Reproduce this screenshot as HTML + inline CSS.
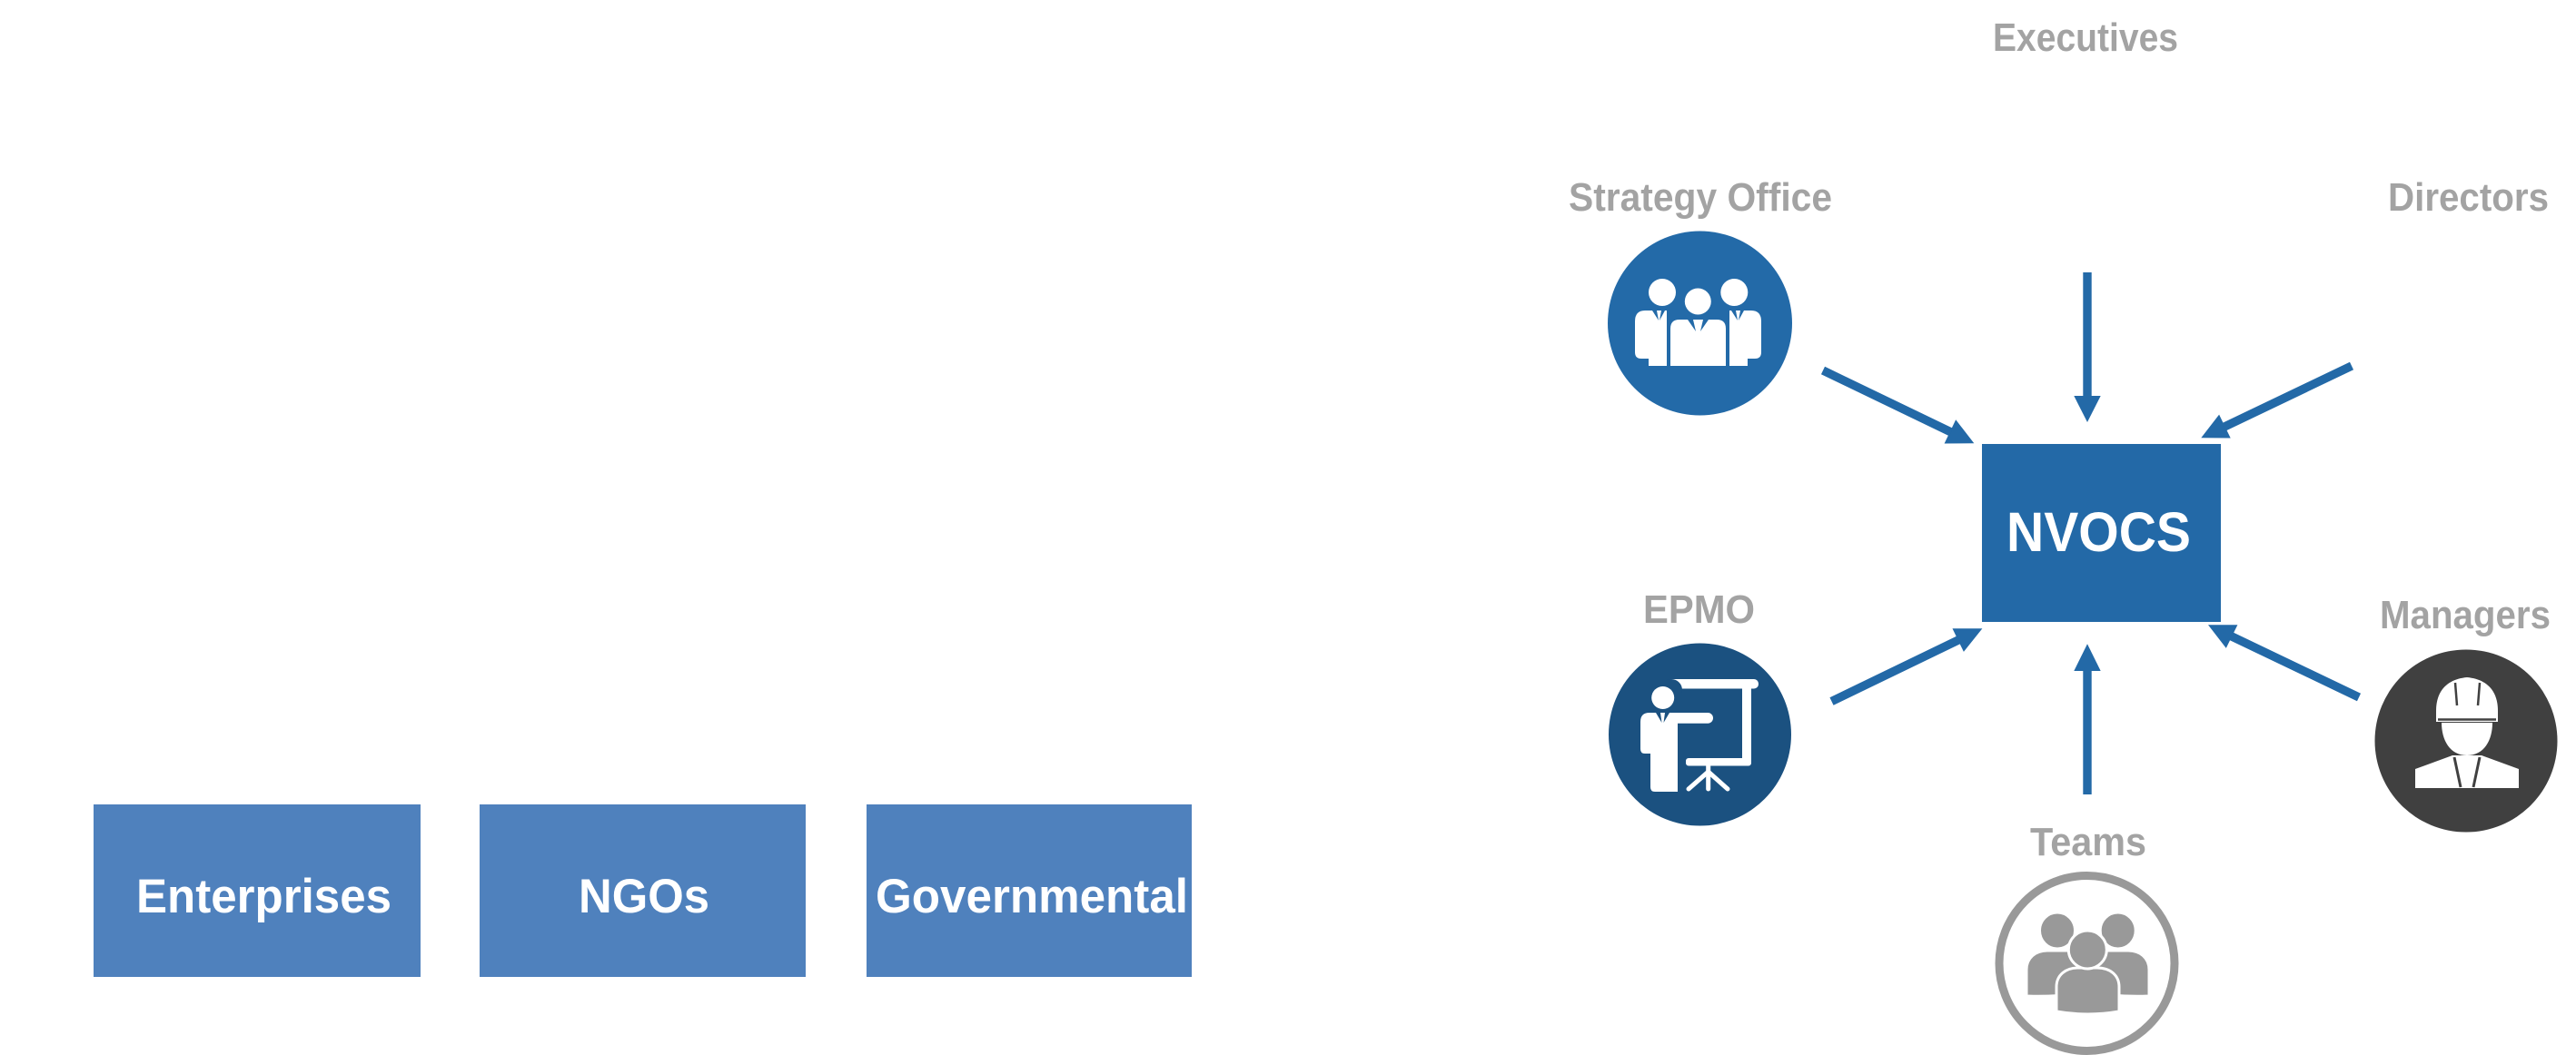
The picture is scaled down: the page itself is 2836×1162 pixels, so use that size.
<!DOCTYPE html>
<html>
<head>
<meta charset="utf-8">
<style>
  html, body { margin:0; padding:0; background:#ffffff; }
  body { width:2836px; height:1162px; overflow:hidden; }
  svg { display:block; }
  .lbl { font-family:"Liberation Sans", Arial, sans-serif; font-weight:bold; fill:#a3a3a3; font-size:44px; }
  .wt { font-family:"Liberation Sans", Arial, sans-serif; font-weight:bold; fill:#ffffff; }
</style>
</head>
<body>
<svg width="2836" height="1162" viewBox="0 0 2836 1162" xmlns="http://www.w3.org/2000/svg">
  <rect x="0" y="0" width="2836" height="1162" fill="#ffffff"/>

  <!-- Bottom-left boxes -->
  <rect x="103" y="886" width="360" height="190" fill="#4f81bd"/>
  <rect x="528" y="886" width="359" height="190" fill="#4f81bd"/>
  <rect x="954" y="886" width="358" height="190" fill="#4f81bd"/>
  <text class="wt" x="150" y="1005" font-size="53" textLength="281" lengthAdjust="spacingAndGlyphs">Enterprises</text>
  <text class="wt" x="637" y="1005" font-size="53" textLength="144" lengthAdjust="spacingAndGlyphs">NGOs</text>
  <text class="wt" x="964" y="1005" font-size="53" textLength="344" lengthAdjust="spacingAndGlyphs">Governmental</text>

  <!-- Labels -->
  <text class="lbl" x="2194" y="56" textLength="204" lengthAdjust="spacingAndGlyphs">Executives</text>
  <text class="lbl" x="1727" y="232" textLength="290" lengthAdjust="spacingAndGlyphs">Strategy Office</text>
  <text class="lbl" x="2629" y="232" textLength="177" lengthAdjust="spacingAndGlyphs">Directors</text>
  <text class="lbl" x="1809" y="686" textLength="123" lengthAdjust="spacingAndGlyphs">EPMO</text>
  <text class="lbl" x="2620" y="692" textLength="188" lengthAdjust="spacingAndGlyphs">Managers</text>
  <text class="lbl" x="2235" y="942" textLength="128" lengthAdjust="spacingAndGlyphs">Teams</text>

  <!-- NVOCS -->
  <rect x="2182" y="489" width="263" height="196" fill="#2369a7"/>
  <text class="wt" x="2209" y="607" font-size="61" textLength="203" lengthAdjust="spacingAndGlyphs">NVOCS</text>

  <!-- Arrows -->
  <g fill="#2369a7" stroke="none">
    <!-- Executives (down) -->
    <rect x="2293.3" y="300" width="9.4" height="137"/>
    <polygon points="2283.3,436 2312.7,436 2298,465"/>
    <!-- Teams (up) -->
    <rect x="2293.3" y="738" width="9.4" height="137"/>
    <polygon points="2283.3,739 2312.7,739 2298,709.3"/>
    <!-- Strategy Office -->
    <polygon points="2140.6,488.5 2153.2,462.3 2173.3,488.3"/>
    <!-- Directors -->
    <polygon points="2455.7,482.5 2443.1,456.6 2423.3,482.3"/>
    <!-- EPMO -->
    <polygon points="2161.9,717.9 2149.5,692.3 2182.4,692.3"/>
    <!-- Managers -->
    <polygon points="2450.8,713.9 2463.4,688.3 2431,688.3"/>
  </g>
  <g stroke="#2369a7" stroke-width="9.4" fill="none" stroke-linecap="butt">
    <line x1="2007" y1="408" x2="2148" y2="476"/>
    <line x1="2589" y1="403" x2="2448" y2="470.5"/>
    <line x1="2016.5" y1="772.5" x2="2157" y2="704.5"/>
    <line x1="2597" y1="768" x2="2456" y2="700.5"/>
  </g>

  <!-- Strategy Office circle & icon -->
  <circle cx="1871.5" cy="356" r="101.5" fill="#236aa8"/>
  <g fill="#ffffff">
    <circle cx="1830" cy="322" r="15"/>
    <circle cx="1909.3" cy="322" r="15"/>
    <circle cx="1869.3" cy="332" r="14.5"/>
    <path d="M1800,354 Q1800,342 1811,342 L1835,342 L1835,403 L1815,403 L1815,395 L1807,395 Q1800,395 1800,388 Z"/>
    <path d="M1939,354 Q1939,342 1928,342 L1904,342 L1904,403 L1924,403 L1924,395 L1932,395 Q1939,395 1939,388 Z"/>
    <path d="M1839,403 L1839,362 Q1839,352 1849,352 L1890,352 Q1900,352 1900,362 L1900,403 Z"/>
  </g>
  <g fill="#236aa8">
    <polygon points="1819,342 1824,342 1826,353"/>
    <polygon points="1833,342 1829,342 1827,353"/>
    <polygon points="1906,342 1911,342 1913,353"/>
    <polygon points="1920,342 1916,342 1914,353"/>
    <polygon points="1858,352 1864,352 1867,365"/>
    <polygon points="1881,352 1875,352 1872,365"/>
  </g>

  <!-- EPMO circle & icon -->
  <circle cx="1871.5" cy="809" r="100.5" fill="#1b5180"/>
  <g fill="#ffffff">
    <!-- board -->
    <rect x="1836" y="748" width="100" height="10.5" rx="5"/>
    <circle cx="1840" cy="760" r="12" fill="#1b5180"/>
    <rect x="1918" y="752" width="10" height="90" rx="3"/>
    <rect x="1856" y="835" width="72" height="8.5" rx="3"/>
    <!-- person -->
    <circle cx="1830.7" cy="768.5" r="12.5"/>
    <path d="M1806,795 Q1806,785 1816,785 L1847,785 L1847,872 L1822,872 Q1817,872 1817,867 L1817,830 L1811,830 Q1806,830 1806,825 Z"/>
    <rect x="1840" y="785" width="46" height="11.7" rx="5.8"/>
  </g>
  <g stroke="#ffffff" stroke-width="5" stroke-linecap="round" fill="none">
    <line x1="1880.7" y1="843" x2="1880.7" y2="869"/>
    <line x1="1880.7" y1="850" x2="1859" y2="869"/>
    <line x1="1880.7" y1="850" x2="1902" y2="869"/>
  </g>
  <g fill="#1b5180">
    <polygon points="1823,785 1828,785 1829.5,796"/>
    <polygon points="1838,785 1833,785 1831.5,796"/>
  </g>

  <!-- Managers circle & icon -->
  <circle cx="2715" cy="816" r="100.5" fill="#404040"/>
  <g fill="#ffffff">
    <path d="M2682,795 L2682,783 C2682,760 2695,748 2716,746 C2737,748 2750,760 2750,783 L2750,795 Z"/>
    <path d="M2688,796 L2744,796 C2744,815 2735,832 2716,832 C2697,832 2688,815 2688,796 Z"/>
    <path d="M2659,847 L2700,832 L2732,832 L2773,847 L2773,868 L2659,868 Z"/>
  </g>
  <g stroke="#404040" fill="none">
    <line x1="2703" y1="752" x2="2705" y2="777" stroke-width="2.5"/>
    <line x1="2730" y1="752" x2="2728" y2="777" stroke-width="2.5"/>
    <line x1="2684" y1="792.5" x2="2748" y2="792.5" stroke-width="2.5"/>
    <line x1="2702" y1="834" x2="2709" y2="867" stroke-width="3"/>
    <line x1="2730" y1="834" x2="2723" y2="867" stroke-width="3"/>
  </g>

  <!-- Teams circle & icon -->
  <circle cx="2297.5" cy="1061" r="96.5" fill="#ffffff" stroke="#999999" stroke-width="9"/>
  <g fill="#999999" stroke="#ffffff" stroke-width="3">
    <path d="M2231,1097 L2231,1068 C2231,1055 2241,1047 2254,1047 L2278,1047 C2291,1047 2300,1055 2300,1068 L2300,1093 C2280,1096 2255,1098 2231,1097 Z"/>
    <path d="M2366,1097 L2366,1068 C2366,1055 2356,1047 2343,1047 L2319,1047 C2306,1047 2297,1055 2297,1068 L2297,1093 C2317,1096 2342,1098 2366,1097 Z"/>
    <ellipse cx="2265" cy="1025" rx="19.5" ry="20"/>
    <ellipse cx="2331.7" cy="1025" rx="19.5" ry="20"/>
    <path d="M2264,1114 L2264,1087 C2264,1074 2274,1066 2288,1066 L2309,1066 C2323,1066 2333,1074 2333,1087 L2333,1114 C2310,1118 2287,1118 2264,1114 Z"/>
    <ellipse cx="2298.3" cy="1046" rx="21" ry="21"/>
  </g>
</svg>
</body>
</html>
